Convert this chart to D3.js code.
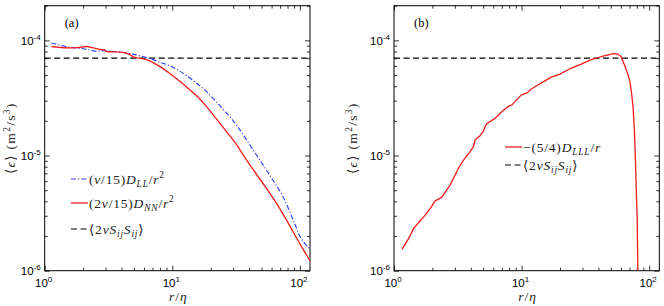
<!DOCTYPE html>
<html>
<head>
<meta charset="utf-8">
<script src="https://cdn.jsdelivr.net/npm/d3@7"></script>
<style>
  body { margin: 0; background: #fff; }
  svg { display: block; }
</style>
</head>
<body>
<svg id="chart" width="664" height="306"></svg>
<script>
// ---- data ----
const xDomain = [1, 120];
const yDomain = [1e-6, 2e-4];
const xMajor = [1, 10, 100];
const yMajor = [1e-6, 1e-5, 1e-4];
const xMajorLabels = ['0', '1', '2'];
const yMajorLabels = ['-6', '-5', '-4'];
const strainEps = 7e-5;                       // <2 nu S_ij S_ij>

// (a) (nu/15) D_LL / r^2
const llR   = [1.13, 1.3, 1.5, 1.75, 2.0, 2.3, 2.55, 2.8, 3.1, 3.6, 4.1, 4.9, 5.8, 6.7, 8.0, 9.8, 12.9, 15.5, 18.5, 22, 26.5, 32, 38, 46, 54.6, 64, 73.6, 82, 88, 94, 99.5, 106, 112, 120];
const llEps = [9.5e-5, 9.1e-5, 8.8e-5, 8.6e-5, 8.45e-5, 8.2e-5, 8.05e-5, 8.15e-5, 8.1e-5, 8.0e-5, 7.85e-5, 7.6e-5, 7.25e-5, 6.95e-5, 6.45e-5, 5.95e-5, 4.95e-5, 4.25e-5, 3.6e-5, 2.95e-5, 2.35e-5, 1.83e-5, 1.38e-5, 1.0e-5, 7.5e-6, 5.7e-6, 4.4e-6, 3.4e-6, 2.8e-6, 2.35e-6, 2.0e-6, 1.8e-6, 1.67e-6, 1.55e-6];

// (a) (2 nu/15) D_NN / r^2
const nnR   = [1.13, 1.3, 1.5, 1.8, 2.13, 2.4, 2.7, 2.95, 3.05, 3.5, 4.12, 4.6, 4.94, 5.5, 6.28, 7.0, 7.98, 9.8, 12.9, 15.5, 18.5, 22, 26.5, 32, 38, 46, 54.6, 66, 78.4, 88, 99.5, 108, 116, 120];
const nnEps = [8.85e-5, 8.7e-5, 8.6e-5, 8.65e-5, 8.85e-5, 8.6e-5, 8.35e-5, 8.25e-5, 8.0e-5, 7.95e-5, 7.85e-5, 7.55e-5, 7.2e-5, 7.0e-5, 6.8e-5, 6.45e-5, 5.95e-5, 5.05e-5, 3.95e-5, 3.3e-5, 2.67e-5, 2.1e-5, 1.62e-5, 1.24e-5, 9.2e-6, 6.8e-6, 5.2e-6, 3.8e-6, 2.76e-6, 2.2e-6, 1.73e-6, 1.48e-6, 1.3e-6, 1.22e-6];

// (b) -(5/4) D_LLL / r
const lllR   = [1.155, 1.3, 1.43, 1.6, 1.76, 1.95, 2.1, 2.25, 2.37, 2.55, 2.76, 3.0, 3.2, 3.55, 3.95, 4.2, 4.32, 4.7, 5.01, 5.2, 5.33, 5.7, 6.2, 7.0, 7.87, 8.4, 9.0, 10, 11, 12, 13.5, 15, 17.1, 20, 24.5, 29, 35.2, 40, 44.8, 48, 52, 56.9, 60, 62.3, 66, 70.2, 72.5, 74.6, 76.5, 77.6, 79, 80.5, 81.2, 81.6];
const lllEps = [1.53e-6, 1.9e-6, 2.34e-6, 2.7e-6, 3.05e-6, 3.55e-6, 4.04e-6, 4.2e-6, 4.35e-6, 4.9e-6, 5.56e-6, 6.7e-6, 7.76e-6, 9.3e-6, 1.08e-5, 1.2e-5, 1.37e-5, 1.48e-5, 1.62e-5, 1.8e-5, 1.89e-5, 1.98e-5, 2.11e-5, 2.4e-5, 2.67e-5, 2.75e-5, 3.0e-5, 3.37e-5, 3.5e-5, 3.8e-5, 4.12e-5, 4.4e-5, 4.8e-5, 5.1e-5, 5.75e-5, 6.2e-5, 6.8e-5, 7.1e-5, 7.36e-5, 7.5e-5, 7.66e-5, 7.6e-5, 7.25e-5, 6.58e-5, 5.6e-5, 4.55e-5, 3.6e-5, 2.67e-5, 1.7e-5, 1.12e-5, 5.5e-6, 2.9e-6, 1.4e-6, 8e-7];

// ---- drawing ----
const svg = d3.select('#chart');
const sansFont = '"Liberation Sans", Arial, Helvetica, sans-serif';
const serifFont = '"Liberation Serif", "Times New Roman", "DejaVu Serif", serif';

const panels = [
  { tag: '(a)', left: 44.7, ylabX: 15 },
  { tag: '(b)', left: 394, ylabX: 357 }
];
const plotTop = 5.7, plotW = 265.3, plotH = 265;

// mixed roman/italic/sub/sup text; parts = [text, italic, pos] pos: 0 base, 1 sub, -1 sup
function mathText(g, x, y, parts, size, anchor, spacing) {
  const t = g.append('text')
    .attr('x', x).attr('y', y)
    .attr('font-family', serifFont)
    .attr('font-size', size)
    .attr('letter-spacing', spacing || 0)
    .attr('fill', '#222')
    .attr('text-anchor', anchor || 'start');
  let shift = 0;
  parts.forEach(([s, it, pos]) => {
    const target = pos === 1 ? size * 0.28 : pos === -1 ? -size * 0.38 : 0;
    t.append('tspan')
      .attr('dy', target - shift)
      .attr('font-size', pos ? size * 0.7 : size)
      .attr('font-style', it ? 'italic' : 'normal')
      .text(s);
    shift = target;
  });
  return t;
}

function drawPanel(p, idx) {
  const x = d3.scaleLog().domain(xDomain).range([p.left, p.left + plotW]);
  const y = d3.scaleLog().domain(yDomain).range([plotTop + plotH, plotTop]);
  const g = svg.append('g');

  const clipId = 'clip' + idx;
  g.append('clipPath').attr('id', clipId)
    .append('rect').attr('x', p.left).attr('y', plotTop).attr('width', plotW).attr('height', plotH);

  const xMinor = x.ticks().filter(v => !xMajor.includes(v));
  const yMinor = y.ticks().filter(v => !yMajor.some(m => Math.abs(m - v) / m < 1e-6));

  const tickAxis = (axisFn, scale, vals, len, tx, ty) => {
    g.append('g')
      .attr('transform', `translate(${tx},${ty})`)
      .call(axisFn(scale).tickValues(vals).tickSize(len).tickFormat(''))
      .call(a => a.select('.domain').remove())
      .call(a => a.selectAll('line').attr('stroke', '#000').attr('stroke-width', 0.8));
  };
  // inward ticks on all four sides
  tickAxis(d3.axisBottom, x, xMajor, -5, 0, plotTop + plotH);
  tickAxis(d3.axisBottom, x, xMinor, -3, 0, plotTop + plotH);
  tickAxis(d3.axisTop, x, xMajor, -5, 0, plotTop);
  tickAxis(d3.axisTop, x, xMinor, -3, 0, plotTop);
  tickAxis(d3.axisLeft, y, yMajor, -5, p.left, 0);
  tickAxis(d3.axisLeft, y, yMinor, -3, p.left, 0);
  tickAxis(d3.axisRight, y, yMajor, -5, p.left + plotW, 0);
  tickAxis(d3.axisRight, y, yMinor, -3, p.left + plotW, 0);

  // frame
  g.append('rect')
    .attr('x', p.left).attr('y', plotTop).attr('width', plotW).attr('height', plotH)
    .attr('fill', 'none').attr('stroke', '#000').attr('stroke-width', 1);

  // tick labels
  xMajor.forEach((v, i) => {
    const t = g.append('text')
      .attr('x', x(v) - 1).attr('y', plotTop + plotH + 16)
      .attr('font-family', sansFont).attr('font-size', 11.5)
      .attr('text-anchor', 'middle').text('10');
    t.append('tspan').attr('dy', -5).attr('font-size', 8).text(xMajorLabels[i]);
  });
  yMajor.forEach((v, i) => {
    const t = g.append('text')
      .attr('x', p.left - 4).attr('y', y(v) + 4.5)
      .attr('font-family', sansFont).attr('font-size', 11.5)
      .attr('text-anchor', 'end').text('10');
    t.append('tspan').attr('dy', -5).attr('font-size', 8).text(yMajorLabels[i]);
  });

  // axis labels
  mathText(g, p.left + plotW / 2 + 1, 301, [['r', true, 0], ['/', false, 0], ['η', true, 0]], 13.5, 'middle', 1);
  const yl = mathText(g, 0, 0, [['⟨', false, 0], ['ϵ', true, 0], ['⟩   (m', false, 0], ['2', false, -1], ['/s', false, 0], ['3', false, -1], [')', false, 0]], 13.5, 'middle', 1.3);
  yl.attr('transform', `translate(${p.ylabX},${plotTop + plotH / 2}) rotate(-90)`);

  // panel tag
  g.append('text').attr('x', p.left + 20).attr('y', plotTop + 21)
    .attr('font-family', serifFont).attr('font-size', 12.5).text(p.tag);

  // dissipation reference
  g.append('line')
    .attr('x1', x(xDomain[0])).attr('x2', x(xDomain[1]))
    .attr('y1', y(strainEps)).attr('y2', y(strainEps))
    .attr('stroke', '#000').attr('stroke-width', 1.2).attr('stroke-dasharray', '6,3.5');

  return { g, x, y, clipId };
}

const line = (x, y) => d3.line().x(d => x(d[0])).y(d => y(d[1])).curve(d3.curveMonotoneX);

// panel (a)
const pa = drawPanel(panels[0], 0);
pa.g.append('path')
  .datum(d3.zip(llR, llEps))
  .attr('clip-path', `url(#${pa.clipId})`)
  .attr('fill', 'none').attr('stroke', '#2b3cf0').attr('stroke-width', 1.1)
  .attr('stroke-dasharray', '5,2,1.2,2')
  .attr('d', line(pa.x, pa.y));
pa.g.append('path')
  .datum(d3.zip(nnR, nnEps))
  .attr('clip-path', `url(#${pa.clipId})`)
  .attr('fill', 'none').attr('stroke', '#f01c1c').attr('stroke-width', 1.3)
  .attr('d', line(pa.x, pa.y));

// panel (b)
const pb = drawPanel(panels[1], 1);
pb.g.append('path')
  .datum(d3.zip(lllR, lllEps))
  .attr('clip-path', `url(#${pb.clipId})`)
  .attr('fill', 'none').attr('stroke', '#f01c1c').attr('stroke-width', 1.3)
  .attr('d', d3.line().x(d => pb.x(d[0])).y(d => pb.y(d[1])));

// legends
function legendRow(g, x0, yRow, stroke, dash, width, parts) {
  g.append('line')
    .attr('x1', x0).attr('x2', x0 + 17).attr('y1', yRow).attr('y2', yRow)
    .attr('stroke', stroke).attr('stroke-width', width)
    .attr('stroke-dasharray', dash);
  mathText(g, x0 + 18, yRow + 4.5, parts, 13.5, 'start', 0.8);
}
legendRow(pa.g, 71, 179, '#2b3cf0', '5,2,1.2,2', 1.1,
  [['(', false, 0], ['ν', true, 0], ['/15)', false, 0], ['D', true, 0], ['LL', true, 1], ['/', false, 0], ['r', true, 0], ['2', false, -1]]);
legendRow(pa.g, 71, 203, '#f01c1c', null, 1.3,
  [['(2', false, 0], ['ν', true, 0], ['/15)', false, 0], ['D', true, 0], ['NN', true, 1], ['/', false, 0], ['r', true, 0], ['2', false, -1]]);
legendRow(pa.g, 71, 229, '#000', '6,3.5', 1.2,
  [['⟨2', false, 0], ['νS', true, 0], ['ij', true, 1], ['S', true, 0], ['ij', true, 1], ['⟩', false, 0]]);

legendRow(pb.g, 505, 147, '#f01c1c', null, 1.3,
  [['−(5/4)', false, 0], ['D', true, 0], ['LLL', true, 1], ['/', false, 0], ['r', true, 0]]);
legendRow(pb.g, 505, 165, '#000', '6,3.5', 1.2,
  [['⟨2', false, 0], ['νS', true, 0], ['ij', true, 1], ['S', true, 0], ['ij', true, 1], ['⟩', false, 0]]);
</script>
</body>
</html>
